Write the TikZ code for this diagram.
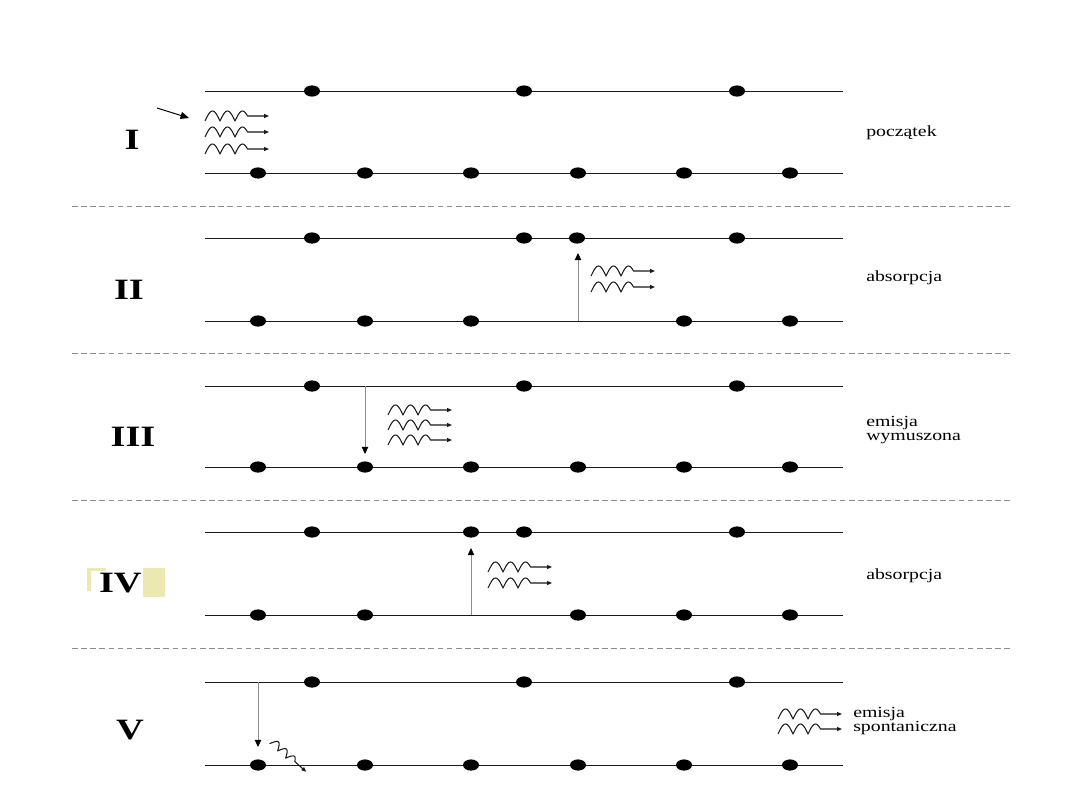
\documentclass[tikz,border=0pt]{standalone}
\usepackage{fontspec}
\setmainfont{Liberation Serif}
\newfontfamily\numfont[FakeStretch=1.3]{Liberation Serif}
\newfontfamily\lblfont[FakeStretch=1.28]{Liberation Serif}
\usetikzlibrary{arrows.meta,shapes.geometric}
\begin{document}
\begin{tikzpicture}[x=0.025cm,y=-0.025cm,
  level/.style={draw=black!90, line width=0.65pt},
  sep/.style={draw=black!45, line width=0.6pt, dash pattern=on 4pt off 2.5pt},
  dot/.style={ellipse, fill=black, draw=none, minimum width=0.4cm, minimum height=0.28cm, inner sep=0pt},
  vert/.style={draw=black!45, line width=0.6pt, -{Triangle[color=black, width=4.5pt, length=5pt]}},
  numeral/.style={font=\numfont\bfseries\fontsize{21}{21}\selectfont, inner sep=0pt},
  lbl/.style={font=\lblfont\fontsize{11}{10.5}\selectfont, anchor=west, inner sep=0pt, align=left},
  hl/.style={fill=yellow!30!olive!25, draw=none},
  photon/.pic={
    \draw[black!90, line width=0.75pt, line join=round, -{Triangle[length=3.5pt, width=2.8pt]}]
      plot[domain=0:510, samples=86] ({\x/12}, {5-10*abs(sin(\x))}) -- (64,0);
  }]
\useasboundingbox (0,0) rectangle (1080,810);

% separators
\foreach \y [count=\i] in {206,353,500,648} {
  \coordinate (s\i a) at (72,\y);
  \coordinate (s\i b) at (1012,\y);
  \draw[sep] (s\i a) -- (s\i b);
}

% level lines
\foreach \yt/\yb [count=\i] in {91/173,238/321,386/467,532/615,682/765} {
  \coordinate (t\i a) at (205,\yt); \coordinate (t\i b) at (843,\yt);
  \coordinate (b\i a) at (205,\yb); \coordinate (b\i b) at (843,\yb);
  \draw[level] (t\i a) -- (t\i b);
  \draw[level] (b\i a) -- (b\i b);
}

% ---------- I ----------
\foreach \x [count=\j] in {312,524,737} \node[dot] (d1t\j) at (\x,91) {};
\foreach \x [count=\j] in {258,365,471,578,684,790} \node[dot] (d1b\j) at (\x,173) {};
\coordinate (in1) at (157,108); \coordinate (in2) at (189,118);
\draw[black, line width=0.7pt, -{Triangle[width=5pt, length=6pt]}] (in1) -- (in2);
\pic at (205,116) {photon};
\pic at (205,132) {photon};
\pic at (205,149) {photon};
\node[numeral] (n1) at (132,140) {I};
\node[lbl] (l1) at (866,133) {początek};

% ---------- II ----------
\foreach \x [count=\j] in {312,524,577,737} \node[dot] (d2t\j) at (\x,238) {};
\foreach \x [count=\j] in {258,365,471,684,790} \node[dot] (d2b\j) at (\x,321) {};
\coordinate (a2s) at (578,321); \coordinate (a2e) at (578,253);
\draw[vert] (a2s) -- (a2e);
\pic at (591,271) {photon};
\pic at (591,287) {photon};
\node[numeral] (n2) at (129,290) {II};
\node[lbl] (l2) at (866,278) {absorpcja};

% ---------- III ----------
\foreach \x [count=\j] in {312,524,737} \node[dot] (d3t\j) at (\x,386) {};
\foreach \x [count=\j] in {258,365,471,578,684,790} \node[dot] (d3b\j) at (\x,467) {};
\coordinate (a3s) at (365,386); \coordinate (a3e) at (365,454);
\draw[vert] (a3s) -- (a3e);
\pic at (388,410) {photon};
\pic at (388,425) {photon};
\pic at (388,440) {photon};
\node[numeral] (n3) at (133,437) {III};
\node[lbl] (l3) at (866,430) {emisja\\wymuszona};

% ---------- IV ----------
\foreach \x [count=\j] in {312,471,524,737} \node[dot] (d4t\j) at (\x,532) {};
\foreach \x [count=\j] in {258,365,578,684,790} \node[dot] (d4b\j) at (\x,615) {};
\coordinate (a4s) at (471,615); \coordinate (a4e) at (471,548);
\draw[vert] (a4s) -- (a4e);
\pic at (488,567) {photon};
\pic at (488,583) {photon};
\fill[hl] (87,568) rectangle (106,591);
\fill[white] (91,571) rectangle (141,598);
\fill[hl] (143,568) rectangle (165,597);
\node[numeral, anchor=east] (n4) at (142,583) {IV};
\node[lbl] (l4) at (866,576) {absorpcja};

% ---------- V ----------
\foreach \x [count=\j] in {312,524,737} \node[dot] (d5t\j) at (\x,682) {};
\foreach \x [count=\j] in {258,365,471,578,684,790} \node[dot] (d5b\j) at (\x,765) {};
\coordinate (a5s) at (258,682); \coordinate (a5e) at (258,747);
\draw[vert] (a5s) -- (a5e);
\pic[rotate=-42, scale=0.72] at (272,741) {photon};
\pic at (778,714) {photon};
\pic at (778,729) {photon};
\node[numeral] (n5) at (130,730) {V};
\node[lbl] (l5) at (853,721) {emisja\\spontaniczna};
\end{tikzpicture}
\end{document}
